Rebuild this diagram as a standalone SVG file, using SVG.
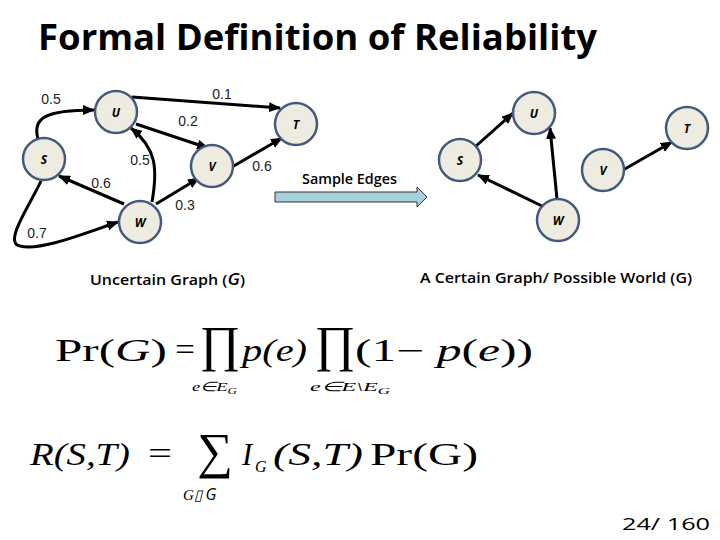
<svg xmlns="http://www.w3.org/2000/svg" width="720" height="540" viewBox="0 0 720 540">
<style>
.node{fill:#eeece1;stroke:#44597c;stroke-width:2.5}
.nl{font-family:"Open Sans","Liberation Sans",sans-serif;font-style:italic;font-weight:bold;font-size:12px;text-anchor:middle;fill:#000}
.e{fill:none;stroke:#000;stroke-width:3;marker-end:url(#ah)}
.lb{font-family:"Liberation Sans",Arial,sans-serif;font-size:14px;text-anchor:middle;fill:#222}
.m{font-family:"Liberation Serif","Times New Roman",serif;fill:#000}
.cap{font-family:"Open Sans","Liberation Sans",sans-serif;font-weight:600;font-size:14px;fill:#000}
</style>
<defs>
<marker id="ah" viewBox="0 0 12 10" refX="11" refY="5" markerWidth="12" markerHeight="10" markerUnits="userSpaceOnUse" orient="auto">
<path d="M0,0 L12,5 L0,10 Z" fill="#000"/>
</marker>
</defs>
<rect width="720" height="540" fill="#fff"/>
<text x="38" y="50" font-family="Open Sans, Liberation Sans, sans-serif" font-weight="bold" font-size="36" textLength="559" lengthAdjust="spacingAndGlyphs">Formal Definition of Reliability</text>

<g id="connectors">
<path class="e" d="M38,139 C32,118 45,110 94,110"/>
<path class="e" d="M132,97 L280,108"/>
<path class="e" d="M136,124 L208,148"/>
<path class="e" d="M232,167 L282,138"/>
<path class="e" d="M124,204 L59,176"/>
<path class="e" d="M156,204 L199,178"/>
<path class="e" d="M152,202 C158,168 156,148 131,128"/>
<path class="e" d="M41,181 C30,205 3,243 20,246 C40,251 80,235 118,222"/>
<path class="e" d="M476,146 L513,113"/>
<path class="e" d="M557,199 L550,128"/>
<path class="e" d="M542,206 L478,175"/>
<path class="e" d="M623,170 L672,142"/>
</g>

<g id="labels">
<text class="lb" x="51" y="104">0.5</text>
<text class="lb" x="222" y="99">0.1</text>
<text class="lb" x="188" y="126">0.2</text>
<text class="lb" x="140" y="165">0.5</text>
<text class="lb" x="101" y="188">0.6</text>
<text class="lb" x="262" y="171">0.6</text>
<text class="lb" x="185" y="210">0.3</text>
<text class="lb" x="37" y="238">0.7</text>
</g>

<g id="node-U"><circle class="node" cx="116" cy="112" r="21"/><text class="nl" x="116" y="117">U</text></g>
<g id="node-S"><circle class="node" cx="44" cy="159" r="21"/><text class="nl" x="44" y="164">S</text></g>
<g id="node-T"><circle class="node" cx="296" cy="124" r="21"/><text class="nl" x="296" y="129">T</text></g>
<g id="node-V"><circle class="node" cx="212" cy="166" r="21"/><text class="nl" x="212" y="171">V</text></g>
<g id="node-W"><circle class="node" cx="140" cy="222" r="21"/><text class="nl" x="140" y="227">W</text></g>

<g id="node-U2"><circle class="node" cx="534" cy="113" r="21"/><text class="nl" x="534" y="118">U</text></g>
<g id="node-S2"><circle class="node" cx="460" cy="160" r="21"/><text class="nl" x="460" y="165">S</text></g>
<g id="node-T2"><circle class="node" cx="687" cy="128" r="21"/><text class="nl" x="687" y="133">T</text></g>
<g id="node-V2"><circle class="node" cx="603" cy="170" r="21"/><text class="nl" x="603" y="175">V</text></g>
<g id="node-W2"><circle class="node" cx="558" cy="220" r="21"/><text class="nl" x="558" y="225">W</text></g>

<g id="sample-arrow">
<path d="M275,192 L417,192 L417,187 L427,197 L417,207 L417,202 L275,202 Z" fill="#a6d0dc" stroke="#333" stroke-width="1"/>
<text class="cap" x="302" y="184" font-weight="bold" textLength="95" lengthAdjust="spacingAndGlyphs">Sample Edges</text>
</g>

<text class="cap" x="90" y="285" textLength="155" lengthAdjust="spacingAndGlyphs">Uncertain Graph  (<tspan font-style="italic" font-size="16">G</tspan>)</text>
<text class="cap" x="420" y="283" textLength="272" lengthAdjust="spacingAndGlyphs">A Certain Graph/ Possible World  (G)</text>

<g id="formula1">
<text class="m" x="55" y="361" font-size="31" textLength="112" lengthAdjust="spacingAndGlyphs">Pr(<tspan font-style="italic">G</tspan>)</text>
<text class="m" x="175" y="360" font-size="31" textLength="20" lengthAdjust="spacingAndGlyphs">=</text>
<text class="m" x="220" y="361" font-size="50" text-anchor="middle">∏</text>
<text class="m" x="242" y="361" font-size="31" font-style="italic" textLength="65" lengthAdjust="spacingAndGlyphs">p(e)</text>
<text class="m" x="335" y="361" font-size="50" text-anchor="middle">∏</text>
<text class="m" x="355" y="361" font-size="31" textLength="178" lengthAdjust="spacingAndGlyphs">(1− <tspan font-style="italic">p</tspan>(<tspan font-style="italic">e</tspan>))</text>
<text class="m" x="192" y="391" font-size="13" font-style="italic" textLength="45" lengthAdjust="spacingAndGlyphs">e∈E<tspan font-size="9" dy="3">G</tspan></text>
<text class="m" x="310" y="391" font-size="13" font-style="italic" textLength="80" lengthAdjust="spacingAndGlyphs">e∈E\E<tspan font-size="9" dy="3">G</tspan></text>
</g>

<g id="formula2">
<text class="m" x="30" y="465" font-size="31" font-style="italic" textLength="100" lengthAdjust="spacingAndGlyphs">R(S,T)</text>
<text class="m" x="148" y="464" font-size="31" textLength="24" lengthAdjust="spacingAndGlyphs">=</text>
<text class="m" x="215" y="468" font-size="50" text-anchor="middle">∑</text>
<text class="m" x="242" y="465" font-size="31" font-style="italic">I</text>
<text class="m" x="255" y="472" font-size="16" font-style="italic">G</text>
<text class="m" x="273" y="465" font-size="31" font-style="italic" textLength="90" lengthAdjust="spacingAndGlyphs">(S,T)</text>
<text class="m" x="370" y="465" font-size="31" textLength="108" lengthAdjust="spacingAndGlyphs">Pr(G)</text>
<text class="m" x="183" y="500" font-size="15" font-style="italic">G▯ <tspan font-family="Open Sans, Liberation Sans, sans-serif" font-size="16">G</tspan></text>
</g>

<text x="622" y="530" font-family="Open Sans, Liberation Sans, sans-serif" font-size="16" textLength="88" lengthAdjust="spacingAndGlyphs">24/ 160</text>
</svg>
